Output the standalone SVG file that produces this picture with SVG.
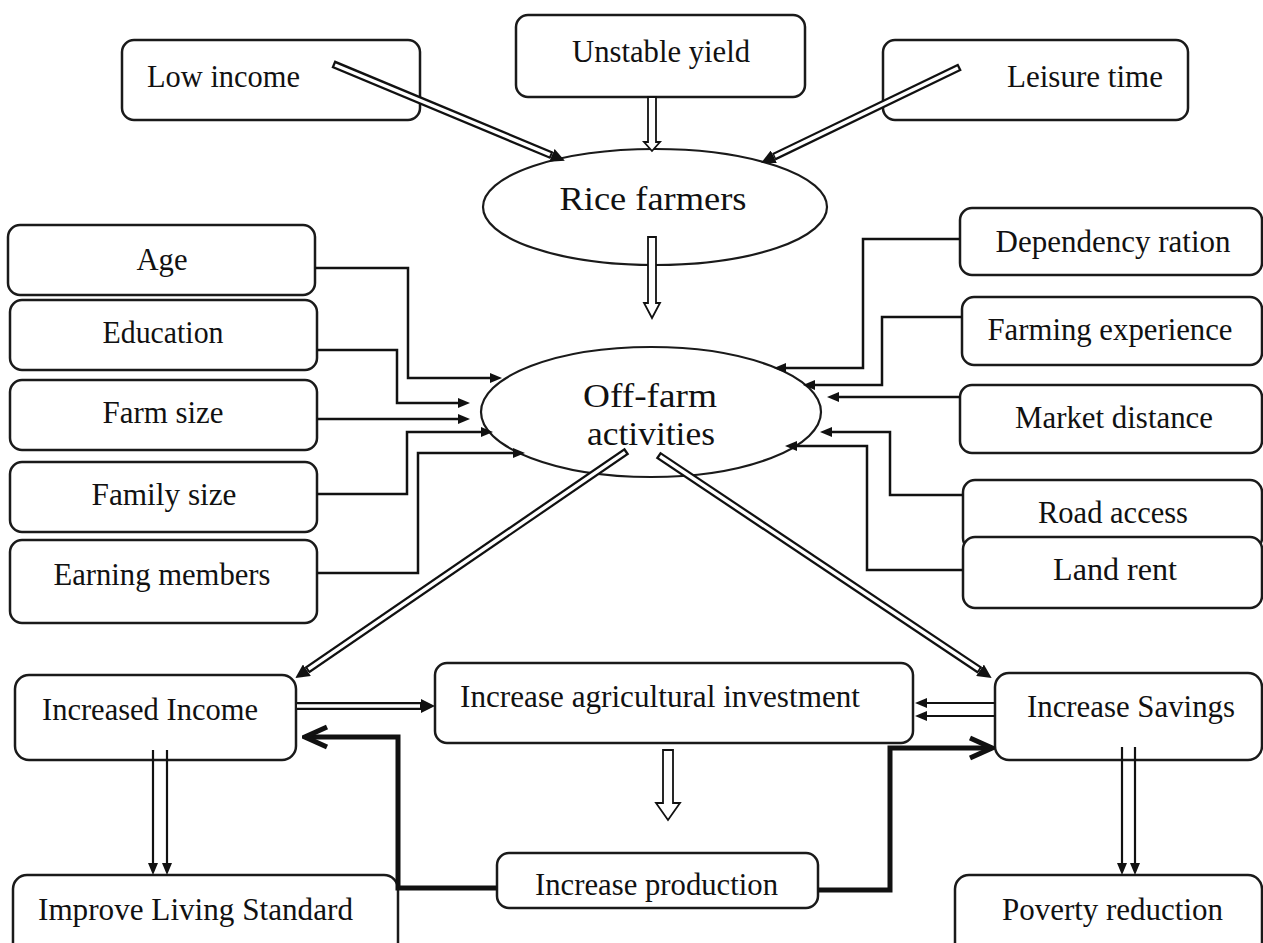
<svg xmlns="http://www.w3.org/2000/svg" width="1263" height="943" viewBox="0 0 1263 943">
<style>
.box{fill:#fff;stroke:#1a1a1a;stroke-width:2.5}
.ell{fill:#fff;stroke:#1a1a1a;stroke-width:2.2}
.t{font-family:"Liberation Serif","Times New Roman",serif;font-size:31px;fill:#111}
.tb{font-size:33px}
.m{text-anchor:middle}
.c{fill:none;stroke:#111;stroke-width:2.5}
.dbo{fill:none;stroke:#111;stroke-width:8}
.dbi{fill:none;stroke:#fff;stroke-width:3.5}
.thin{fill:none;stroke:#111;stroke-width:2.2}
.thick{fill:none;stroke:#111;stroke-width:5}
.hol{fill:#fff;stroke:#111;stroke-width:1.8;stroke-linejoin:miter}
</style>
<defs>
<marker id="ah" viewBox="0 0 12 10" refX="0" refY="5" markerWidth="12" markerHeight="10" markerUnits="userSpaceOnUse" orient="auto"><path d="M0,0 L12,5 L0,10 z" fill="#111"/></marker>
<marker id="ahb" viewBox="0 0 14 14" refX="0" refY="7" markerWidth="14" markerHeight="14" markerUnits="userSpaceOnUse" orient="auto"><path d="M0,0 L14,7 L0,14 z" fill="#111"/></marker>
<marker id="chev" viewBox="0 0 28 26" refX="25" refY="13" markerWidth="28" markerHeight="26" markerUnits="userSpaceOnUse" orient="auto"><path d="M3,3 L25,13 L3,23" fill="none" stroke="#111" stroke-width="5"/></marker>
</defs>

<g id="node-low-income"><rect class="box" x="122" y="40" width="298" height="80" rx="12"/><text class="t" x="147" y="87" textLength="153" lengthAdjust="spacingAndGlyphs">Low income</text></g>
<g id="node-unstable-yield"><rect class="box" x="516" y="15" width="289" height="82" rx="12"/><text class="t" x="572" y="62" textLength="178" lengthAdjust="spacingAndGlyphs">Unstable yield</text></g>
<g id="node-leisure-time"><rect class="box" x="883" y="40" width="305" height="80" rx="12"/><text class="t" x="1007" y="87" textLength="156" lengthAdjust="spacingAndGlyphs">Leisure time</text></g>
<g id="node-rice-farmers"><ellipse class="ell" cx="655" cy="207" rx="172" ry="58"/><text class="t tb m" x="653" y="210" textLength="187" lengthAdjust="spacingAndGlyphs">Rice farmers</text></g>
<g id="node-off-farm"><ellipse class="ell" cx="651" cy="412" rx="170" ry="65"/><text class="t tb m" x="650" y="407" textLength="134" lengthAdjust="spacingAndGlyphs">Off-farm</text><text class="t tb m" x="651" y="445" textLength="128" lengthAdjust="spacingAndGlyphs">activities</text></g>

<g id="node-age"><rect class="box" x="8" y="225" width="307" height="70" rx="12"/><text class="t m" x="162" y="270" textLength="51" lengthAdjust="spacingAndGlyphs">Age</text></g>
<g id="node-education"><rect class="box" x="10" y="300" width="307" height="70" rx="12"/><text class="t m" x="163" y="343" textLength="121" lengthAdjust="spacingAndGlyphs">Education</text></g>
<g id="node-farm-size"><rect class="box" x="10" y="380" width="307" height="70" rx="12"/><text class="t m" x="163" y="423" textLength="121" lengthAdjust="spacingAndGlyphs">Farm size</text></g>
<g id="node-family-size"><rect class="box" x="10" y="462" width="307" height="70" rx="12"/><text class="t m" x="164" y="505" textLength="145" lengthAdjust="spacingAndGlyphs">Family size</text></g>
<g id="node-earning-members"><rect class="box" x="10" y="540" width="307" height="83" rx="12"/><text class="t m" x="162" y="585" textLength="217" lengthAdjust="spacingAndGlyphs">Earning members</text></g>

<g id="node-dependency"><rect class="box" x="960" y="208" width="302" height="67" rx="12"/><text class="t m" x="1113" y="252" textLength="235" lengthAdjust="spacingAndGlyphs">Dependency ration</text></g>
<g id="node-farming-experience"><rect class="box" x="962" y="297" width="300" height="68" rx="12"/><text class="t m" x="1110" y="340" textLength="245" lengthAdjust="spacingAndGlyphs">Farming experience</text></g>
<g id="node-market-distance"><rect class="box" x="960" y="385" width="302" height="68" rx="12"/><text class="t m" x="1114" y="428" textLength="198" lengthAdjust="spacingAndGlyphs">Market distance</text></g>
<g id="node-road-access"><rect class="box" x="963" y="480" width="299" height="70" rx="12"/><text class="t m" x="1113" y="523" textLength="150" lengthAdjust="spacingAndGlyphs">Road access</text></g>
<g id="node-land-rent"><rect class="box" x="963" y="537" width="299" height="71" rx="12"/><text class="t m" x="1115" y="580" textLength="124" lengthAdjust="spacingAndGlyphs">Land rent</text></g>

<g id="node-increased-income"><rect class="box" x="15" y="675" width="281" height="85" rx="14"/><text class="t" x="42" y="720" textLength="216" lengthAdjust="spacingAndGlyphs">Increased Income</text></g>
<g id="node-agri-investment"><rect class="box" x="435" y="663" width="478" height="80" rx="12"/><text class="t" x="460" y="707" textLength="400" lengthAdjust="spacingAndGlyphs">Increase agricultural investment</text></g>
<g id="node-increase-savings"><rect class="box" x="995" y="673" width="267" height="87" rx="14"/><text class="t" x="1027" y="717" textLength="208" lengthAdjust="spacingAndGlyphs">Increase Savings</text></g>
<g id="node-living-standard"><rect class="box" x="13" y="875" width="385" height="85" rx="14"/><text class="t" x="38" y="920" textLength="315" lengthAdjust="spacingAndGlyphs">Improve Living Standard</text></g>
<g id="node-increase-production"><rect class="box" x="497" y="853" width="321" height="55" rx="12"/><text class="t" x="535" y="895" textLength="243" lengthAdjust="spacingAndGlyphs">Increase production</text></g>
<g id="node-poverty-reduction"><rect class="box" x="955" y="875" width="307" height="85" rx="14"/><text class="t" x="1002" y="920" textLength="221" lengthAdjust="spacingAndGlyphs">Poverty reduction</text></g>

<g id="connectors">
  <path class="dbo" d="M333,64 L551.9,155.4" marker-end="url(#ahb)"/>
  <path class="dbi" d="M335,65 L550,154.6"/>
  <path class="dbo" d="M960,67 L773.8,156.8" marker-end="url(#ahb)"/>
  <path class="dbi" d="M958,68 L775,156.2"/>
  <polygon class="hol" points="648,97 656,97 656,142 660,142 652,151 644,142 648,142"/>
  <polygon class="hol" points="648,237 656,237 656,303 660,303 652,318 644,303 648,303"/>
  <polygon class="hol" points="663,750 673,750 673,803 680,803 668,820 656,803 663,803"/>
  <path class="c" d="M315,268 H408 V378 H490" marker-end="url(#ah)"/>
  <path class="c" d="M317,350 H397 V403 H458" marker-end="url(#ah)"/>
  <path class="c" d="M317,419 H458" marker-end="url(#ah)"/>
  <path class="c" d="M317,494 H407 V432 H481" marker-end="url(#ah)"/>
  <path class="c" d="M317,573 H418 V453 H513" marker-end="url(#ah)"/>
  <path class="c" d="M960,239 H863 V368 H786" marker-end="url(#ah)"/>
  <path class="c" d="M962,317 H882 V385 H815" marker-end="url(#ah)"/>
  <path class="c" d="M960,397 H839" marker-end="url(#ah)"/>
  <path class="c" d="M963,495 H890 V432 H832" marker-end="url(#ah)"/>
  <path class="c" d="M963,570 H867 V446 H797" marker-end="url(#ah)"/>
  <path class="dbo" d="M627,451 L306.9,670.2" marker-end="url(#ahb)"/>
  <path class="dbi" d="M625,452.4 L308.5,669.1"/>
  <path class="dbo" d="M658,455 L980,670.3" marker-end="url(#ahb)"/>
  <path class="dbi" d="M660,456.3 L978.5,669.3"/>
  <path class="dbo" d="M297,706 L421,706" marker-end="url(#ahb)"/>
  <path class="dbi" d="M297,706 L420,706"/>
  <path class="thin" d="M995,703 H927" marker-end="url(#ah)"/>
  <path class="thin" d="M995,716 H927" marker-end="url(#ah)"/>
  <path class="thin" d="M153,750 V863" marker-end="url(#ah)"/>
  <path class="thin" d="M167,750 V863" marker-end="url(#ah)"/>
  <path class="thin" d="M1122,747 V863" marker-end="url(#ah)"/>
  <path class="thin" d="M1135,747 V863" marker-end="url(#ah)"/>
  <path class="thick" d="M497,888 H398 V737 H305" marker-end="url(#chev)"/>
  <path class="thick" d="M818,890 H890 V748 H992" marker-end="url(#chev)"/>
</g>
</svg>
